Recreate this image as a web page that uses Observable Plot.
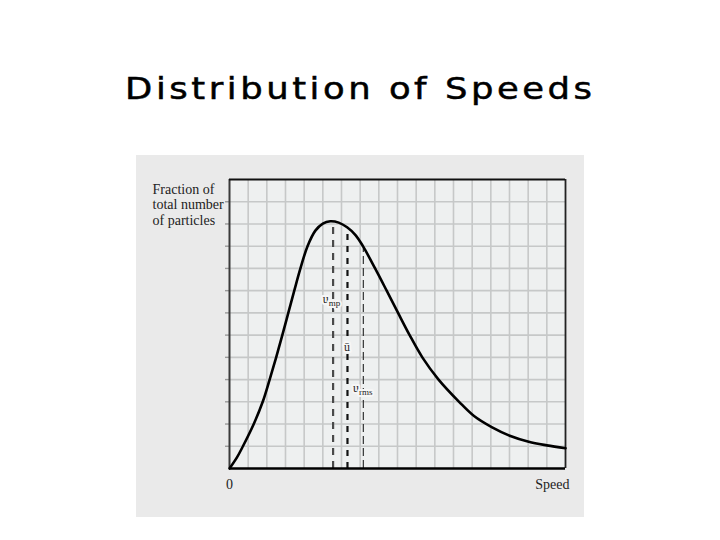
<!DOCTYPE html>
<html>
<head>
<meta charset="utf-8">
<script src="https://cdn.jsdelivr.net/npm/d3@7"></script>
<script src="https://cdn.jsdelivr.net/npm/@observablehq/plot@0.6"></script>
<style>
  html, body { margin: 0; padding: 0; background: #ffffff; }
  #page { position: relative; width: 720px; height: 540px; overflow: hidden; background: #fff; }
  #title {
    position: absolute; left: 0; top: 71px; width: 720px; text-align: center;
    font-family: "Comic Sans MS", "DejaVu Sans", sans-serif; font-size: 30px;
    line-height: 36px; color: #000; -webkit-text-stroke: 0.5px #000;
  }
  #title span { display: inline-block; letter-spacing: 3px; transform: scaleX(1.18); transform-origin: 50% 50%; }
  #scan { position: absolute; left: 136px; top: 155px; width: 448px; height: 362px; background: #eaeaea; }
  #scan svg { background: transparent !important; display: block; }
</style>
</head>
<body>
<div id="page">
  <div id="title"><span>Distribution of Speeds</span></div>
  <div id="scan"></div>
</div>
<script>
// ---- data (grid units: 18 columns x 13 rows) ----
const speed    = [0, 0.4, 0.72, 1.3, 1.78, 2.15, 2.5, 2.83, 3.15, 3.47, 3.8, 4.18, 4.6, 5.0, 5.4, 5.85, 6.3, 6.75, 7.15, 7.8, 8.42, 9.03, 9.65, 10.33, 11.2, 12.3, 13.1, 14.07, 15.05, 16.03, 17.0, 18.0];
const fraction = [0, 0.5, 1.0, 2.0, 3.0, 4.0, 5.0, 6.0, 7.0, 8.0, 9.0, 10.0, 10.7, 11.02, 11.12, 11.06, 10.85, 10.5, 10.0, 9.0, 8.0, 7.0, 6.0, 5.0, 4.0, 3.0, 2.36, 1.85, 1.46, 1.2, 1.04, 0.91];

const markerNames = ["mp", "avg", "rms"];
const markerSpeed = [5.55, 6.32, 7.17];
const markerTop   = [10.85, 10.7, 9.95];
const labelBase   = ["u", "ū", "u"];
const labelSub    = ["mp", "", "rms"];
const labelX      = [5.0, 6.14, 6.62];
const labelY      = [7.6, 5.45, 3.6];

const xGrid = [1, 2, 3, 4, 5, 6, 7, 8, 9, 10, 11, 12, 13, 14, 15, 16, 17];
const yGrid = [1, 2, 3, 4, 5, 6, 7, 8, 9, 10, 11, 12];
const xAxisLabels = ["0", "Speed"];
const xAxisPos = [0, 18];
const yAxisLabel = "Fraction of\ntotal number\nof particles";

// ---- tables built from the arrays ----
const curve = speed.map((s, i) => ({s, f: fraction[i]}));
const markers = markerNames.map((n, i) => ({name: n, x: markerSpeed[i], top: markerTop[i]}));
const labels = labelBase.map((b, i) => ({text: labelSub[i] ? b + "_" + labelSub[i] : b, x: labelX[i], y: labelY[i]}));
const axisLabels = xAxisLabels.map((t, i) => ({t, x: xAxisPos[i]}));

const serif = "'Liberation Serif', 'Times New Roman', serif";
const inner = "#eef0f0";

const chart = Plot.plot({
  width: 448,
  height: 362,
  marginLeft: 93,
  marginRight: 19,
  marginTop: 24,
  marginBottom: 49,
  x: {domain: [0, 18], axis: null},
  y: {domain: [0, 13], axis: null},
  style: {background: "transparent", fontFamily: serif},
  marks: [
    Plot.frame({fill: inner, stroke: "none"}),
    Plot.ruleX(xGrid, {stroke: "#c6c8c8", strokeWidth: 1.6}),
    Plot.ruleY(yGrid, {stroke: "#c6c8c8", strokeWidth: 1.6}),
    Plot.axisY({ticks: yGrid, tickSize: 4, tickFormat: () => "", stroke: "#9a9a9a", strokeWidth: 1.4, label: null}),
    // dashed marker lines
    Plot.ruleX(markers.filter(d => d.name === "mp"), {x: "x", y1: 0, y2: "top", stroke: "#4a4a4a", strokeWidth: 2.2, strokeDasharray: "7,6"}),
    Plot.ruleX(markers.filter(d => d.name === "avg"), {x: "x", y1: 0, y2: "top", stroke: "#111", strokeWidth: 2.2, strokeDasharray: "6,6"}),
    Plot.ruleX(markers.filter(d => d.name === "rms"), {x: "x", y1: 0, y2: "top", stroke: "#333", strokeWidth: 1.2, strokeDasharray: "8,4"}),
    // frame borders
    Plot.ruleX([0], {stroke: "#3a3a3a", strokeWidth: 2}),
    Plot.ruleX([18], {stroke: "#222", strokeWidth: 1.8}),
    Plot.ruleY([13], {stroke: "#111", strokeWidth: 2}),
    Plot.ruleY([0], {stroke: "#000", strokeWidth: 2.6}),
    // the distribution curve
    Plot.line(curve, {x: "s", y: "f", curve: "catmull-rom", stroke: "#000", strokeWidth: 2.6}),
    // marker labels
    Plot.text(labels, {x: "x", y: "y", text: "text", textAnchor: "start", fontSize: 12, fill: "#222", stroke: "#f6f6f6", strokeWidth: 4, fontFamily: serif}),
    // axis texts
    Plot.text(axisLabels.filter(d => d.x === 0), {x: "x", y: 0, text: "t", dy: 16, fontSize: 14, fill: "#222", textAnchor: "middle"}),
    Plot.text(axisLabels.filter(d => d.x === 18), {x: "x", y: 0, text: "t", dy: 16, dx: 4, fontSize: 14, fill: "#222", textAnchor: "end"}),
    Plot.text([yAxisLabel], {frameAnchor: "top-left", text: d => d, textAnchor: "start", lineAnchor: "top", dx: -77, dy: 3, fontSize: 14, lineHeight: 1.12, fill: "#222"})
  ]
});

// subscripts for u_mp and u_rms
chart.querySelectorAll("text").forEach(t => {
  const s = t.textContent;
  if (s.includes("_") && !t.querySelector("tspan")) {
    const [b, sub] = s.split("_");
    t.textContent = "";
    const ns = "http://www.w3.org/2000/svg";
    const t1 = document.createElementNS(ns, "tspan"); t1.textContent = b;
    const t2 = document.createElementNS(ns, "tspan"); t2.textContent = sub;
    t2.setAttribute("dy", "3"); t2.setAttribute("font-size", "9");
    t.appendChild(t1); t.appendChild(t2);
  }
});

document.getElementById("scan").appendChild(chart);
</script>
</body>
</html>
